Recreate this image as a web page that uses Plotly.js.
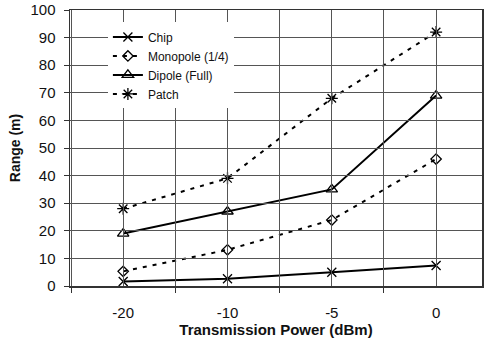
<!DOCTYPE html>
<html>
<head>
<meta charset="utf-8">
<script src="https://cdn.plot.ly/plotly-3.0.1.min.js"></script>
<style>html,body{margin:0;padding:0;background:#fff;}#chart{width:484px;height:341px;}</style>
</head>
<body>
<div id="chart"></div>
<script>
var categories = ['-20', '-10', '-5', '0'];
var chip = [1.6, 2.6, 5.0, 7.4];
var monopole = [5.3, 13.1, 23.9, 46];
var dipole = [19, 27, 35, 69];
var patch = [28, 39, 68, 92];
var seriesNames = ['Chip', 'Monopole (1/4)', 'Dipole (Full)', 'Patch'];

var xpos = categories.map(function (c, i) { return i; });
var halfpos = [-0.5].concat(xpos.map(function (v) { return v + 0.5; }));

function tr(name, y, dash, symbol, msize, xa, ya) {
  return {
    x: xpos, y: y, name: name, type: 'scatter', mode: 'lines+markers',
    xaxis: xa, yaxis: ya,
    line: {color: '#000', width: 2, dash: dash},
    marker: {symbol: symbol, size: msize, color: '#000', line: {color: '#000', width: 1.3}}
  };
}
var data = [
  tr(seriesNames[0], chip, 'solid', 'x-thin-open', 9, 'x', 'y'),
  tr(seriesNames[1], monopole, '4px,6px', 'diamond-open', 8, 'x', 'y'),
  tr(seriesNames[2], dipole, 'solid', 'triangle-up-open', 10, 'x2', 'y2'),
  tr(seriesNames[3], patch, '4px,6px', 'asterisk-open', 10, 'x2', 'y2')
];

var gridc = '#555555';
var xr = [-0.51, 3.44];
var yr = [0, 100];
var plotW = 484 - 70 - 2;
var plotH = 341 - 10 - 55;
var layout = {
  width: 484, height: 341,
  margin: {l: 70, r: 2, t: 10, b: 55},
  paper_bgcolor: '#fff', plot_bgcolor: 'rgba(0,0,0,0)',
  font: {family: 'Liberation Sans, Arial, sans-serif', color: '#111'},
  showlegend: true,
  legend: {x: 0.092, y: 0.955, xanchor: 'left', yanchor: 'top', bgcolor: '#fff',
    font: {size: 12, color: '#111'}, tracegroupgap: 0, itemwidth: 30},
  xaxis: {
    range: xr, tickmode: 'array', tickvals: xpos, ticktext: categories,
    ticks: 'inside', ticklen: plotH, tickcolor: gridc, tickwidth: 1,
    showgrid: false, zeroline: false,
    showline: true, linecolor: '#333', linewidth: 1.5, mirror: true,
    tickfont: {size: 15, color: '#111'}, ticklabelstandoff: 12,
    minor: {tickmode: 'linear', tick0: 0.5, dtick: 1, ticks: 'outside', ticklen: 5,
      tickcolor: '#333', tickwidth: 1, showgrid: false},
    title: {text: '<b>Transmission Power (dBm)</b>', font: {size: 15, color: '#111'}, standoff: 2}
  },
  xaxis2: {
    overlaying: 'x', anchor: 'y2', side: 'bottom', range: xr,
    tickmode: 'array', tickvals: halfpos, showticklabels: false,
    ticks: 'inside', ticklen: plotH, tickcolor: gridc, tickwidth: 1,
    showgrid: false, zeroline: false, showline: false
  },
  yaxis: {
    range: yr, tickmode: 'linear', tick0: 0, dtick: 10, ticks: 'outside', ticklen: 5, tickcolor: '#333', tickwidth: 1,
    showgrid: false, zeroline: false,
    showline: true, linecolor: '#333', linewidth: 1.5, mirror: true,
    tickfont: {size: 15, color: '#111'}, ticklabelstandoff: 5,
    title: {text: '<b>Range (m)</b>', font: {size: 14, color: '#111'}, standoff: 6}
  },
  yaxis2: {
    overlaying: 'y', anchor: 'x2', side: 'left', range: yr,
    tickmode: 'linear', tick0: 0, dtick: 10, showticklabels: false,
    ticks: 'inside', ticklen: plotW, tickcolor: gridc, tickwidth: 1,
    showgrid: false, zeroline: false, showline: false
  }
};
Plotly.newPlot('chart', data, layout, {displayModeBar: false, staticPlot: true});
</script>
</body>
</html>
